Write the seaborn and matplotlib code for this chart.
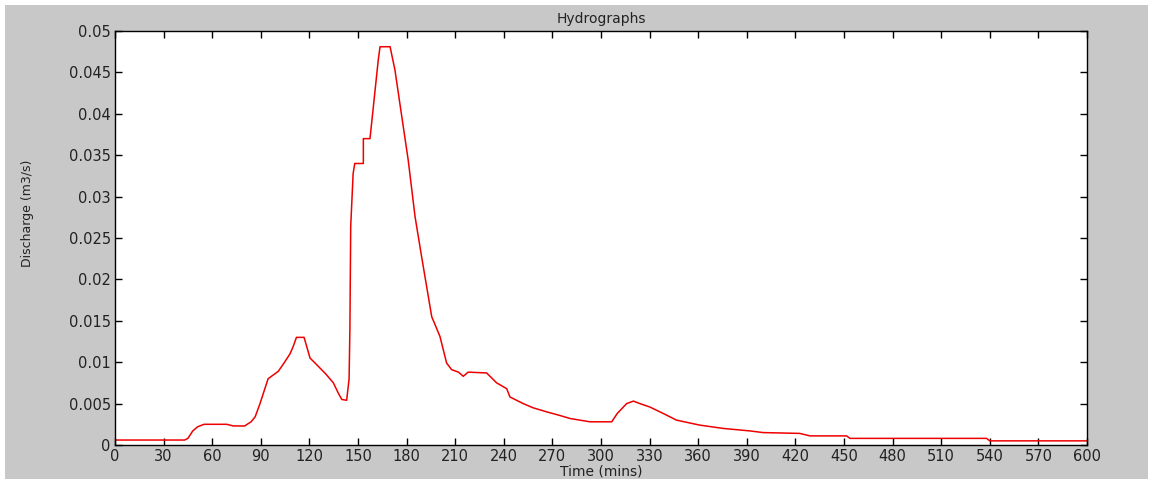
import matplotlib
matplotlib.use("Agg")
import matplotlib.pyplot as plt
import seaborn as sns
import pandas as pd
from matplotlib.patches import Rectangle

# hydrograph (time in minutes, discharge in m3/s)
time_min = [0, 43, 45, 48, 51, 55, 69, 73, 80, 84, 86.5, 89.5, 94.5, 100.8,
            104, 108, 110, 112, 116.7, 120.4, 125, 130, 134.8, 138, 140, 143,
            144.5, 145, 145.5, 147, 148, 153.3, 153.3, 157.4, 159.5, 162.5,
            163.6, 169.8, 172.8, 177, 181, 185.2, 189.3, 192.4, 195.5, 200.6,
            204.7, 207.8, 212, 215, 218, 229.4, 235.6, 241.8, 243.8, 252, 258,
            266.5, 274, 280.9, 293.2, 306.6, 310, 315.8, 320, 324, 330, 336.4,
            346.7, 361, 375.5, 392, 400, 422.7, 429, 451.6, 453.7, 538, 540, 600]
discharge = [0.0006, 0.0006, 0.0008, 0.0017, 0.0022, 0.0025, 0.0025, 0.0023,
             0.0023, 0.0028, 0.0034, 0.0050, 0.0080, 0.0089, 0.0098, 0.0110,
             0.0119, 0.0130, 0.0130, 0.0105, 0.0096, 0.0086, 0.0075, 0.0062,
             0.0055, 0.0054, 0.0080, 0.0140, 0.0264, 0.0328, 0.0340, 0.0340,
             0.0370, 0.0370, 0.0409, 0.0465, 0.0481, 0.0481, 0.0453, 0.0397,
             0.0344, 0.0276, 0.0227, 0.0191, 0.0155, 0.0131, 0.0099, 0.0091,
             0.0088, 0.0083, 0.0088, 0.0087, 0.0075, 0.0068, 0.0058, 0.0050,
             0.0045, 0.0040, 0.0036, 0.0032, 0.0028, 0.0028, 0.0038, 0.0050,
             0.0053, 0.0050, 0.0046, 0.0040, 0.0030, 0.0024, 0.0020, 0.0017,
             0.0015, 0.0014, 0.0011, 0.0011, 0.0008, 0.0008, 0.0005, 0.0005]

x_ticks = list(range(0, 601, 30))
y_ticks = [0, 0.005, 0.01, 0.015, 0.02, 0.025, 0.03, 0.035, 0.04, 0.045, 0.05]
y_labels = ["0", "0.005", "0.01", "0.015", "0.02", "0.025", "0.03", "0.035",
            "0.04", "0.045", "0.05"]

df = pd.DataFrame({"t": time_min, "q": discharge})

sns.set_style("ticks")
plt.rcParams["font.family"] = ["DejaVu Sans"]
plt.rcParams["xtick.direction"] = "in"
plt.rcParams["ytick.direction"] = "in"

fig = plt.figure(figsize=(11.52, 4.83), dpi=100, facecolor="white")
# grey matlab-like window background
fig.patches.append(Rectangle((5 / 1152, 4 / 483), 1143 / 1152, 474 / 483,
                             transform=fig.transFigure, facecolor="#c8c8c8",
                             edgecolor="none", zorder=-1))
ax = fig.add_axes([115 / 1152, 1 - 445 / 483, 972 / 1152, 414 / 483])
ax.set_facecolor("white")

sns.lineplot(data=df, x="t", y="q", sort=False, estimator=None,
             color="#ee0000", linewidth=1.1, ax=ax)

ax.set_xlim(0, 600)
ax.set_ylim(0, 0.05)
ax.set_xticks(x_ticks)
ax.set_xticklabels([str(v) for v in x_ticks])
ax.set_yticks(y_ticks)
ax.set_yticklabels(y_labels)
ax.tick_params(axis="both", which="both", top=True, right=True, length=5,
               width=1, color="black", labelsize=10.5, pad=3,
               labelcolor="#222222")
for s in ax.spines.values():
    s.set_color("black")
    s.set_linewidth(1)

ax.set_title("Hydrographs", fontsize=10, pad=6, color="#222222")
ax.set_xlabel("Time (mins)", fontsize=10, labelpad=0, color="#222222")
ax.set_ylabel("Discharge (m3/s)", fontsize=9, labelpad=8, color="#222222")
ax.yaxis.set_label_coords(-0.083, 0.56)

fig.savefig("out.png", dpi=100, facecolor=fig.get_facecolor())
